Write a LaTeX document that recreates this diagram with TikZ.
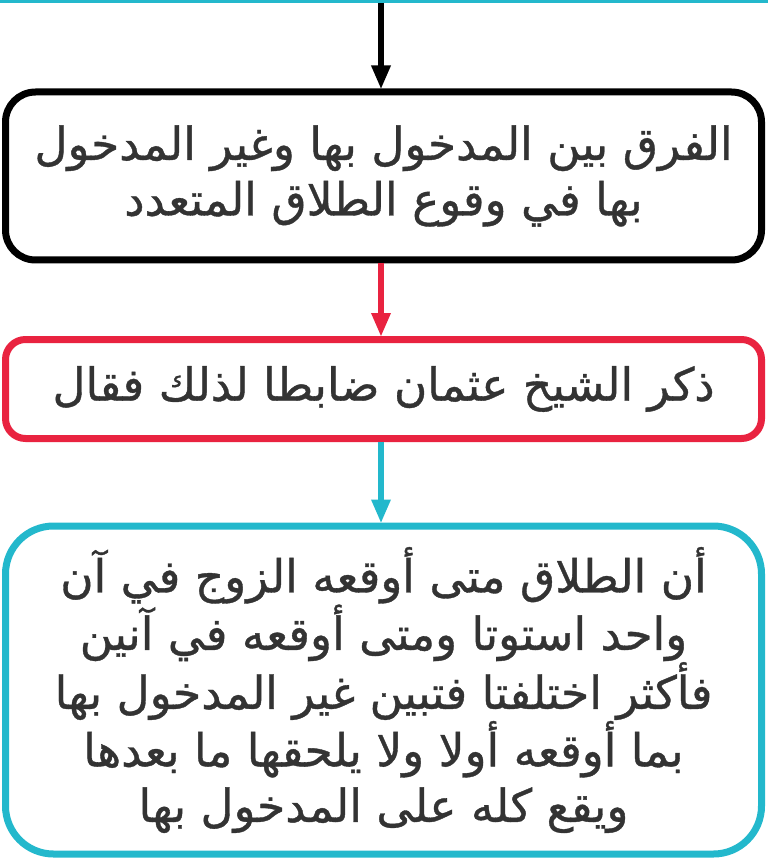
\documentclass[tikz,border=0pt]{standalone}
\usepackage{fontspec}
\TeXXeTstate=1
\newfontfamily\arabicfont[Script=Arabic,FakeBold=0.8]{DejaVu Sans}
\usetikzlibrary{arrows.meta}
\definecolor{bcyan}{RGB}{35,184,204}
\definecolor{bred}{RGB}{233,35,64}
\definecolor{tgray}{RGB}{51,51,51}
\tikzset{
  box/.style={draw, line width=7pt, fill=white, minimum width=756pt, align=center,
    text=tgray, font=\arabicfont\fontsize{45.5}{55.5}\selectfont, inner sep=0pt},
  conn/.style={line width=6.5pt, -{Triangle[length=24pt,width=18pt]}, shorten >=-1pt}
}
\begin{document}
\begin{tikzpicture}[x=1pt,y=1pt]
\useasboundingbox (0,0) rectangle (768,-858);
\draw[bcyan, line width=4pt] (0,-1) -- (768,-1);
\coordinate (top) at (381,-3);
\node[box, minimum height=168pt, rounded corners=30pt] (b1) at (383.5,-176)
  {\beginR الفرق بين المدخول بها وغير المدخول\endR\\ \beginR بها في وقوع الطلاق المتعدد\endR};
\node[box, draw=bred, minimum height=99pt, rounded corners=20pt] (b2) at (383.5,-389)
  {\beginR ذكر الشيخ عثمان ضابطا لذلك فقال\endR};
\node[box, draw=bcyan, minimum height=328pt, rounded corners=48pt] (b3) at (383.5,-690)
  {\beginR أن الطلاق متى أوقعه الزوج في آن\endR\\
   \beginR واحد استوتا ومتى أوقعه في آنين\endR\\
   \beginR فأكثر اختلفتا فتبين غير المدخول بها\endR\\
   \beginR بما أوقعه أولا ولا يلحقها ما بعدها\endR\\
   \beginR ويقع كله على المدخول بها\endR};
\draw[conn] (top) -- (b1.north -| top);
\draw[conn, bred] (b1.south -| top) -- (b2.north -| top);
\draw[conn, bcyan] (b2.south -| top) -- (b3.north -| top);
\end{tikzpicture}
\end{document}
